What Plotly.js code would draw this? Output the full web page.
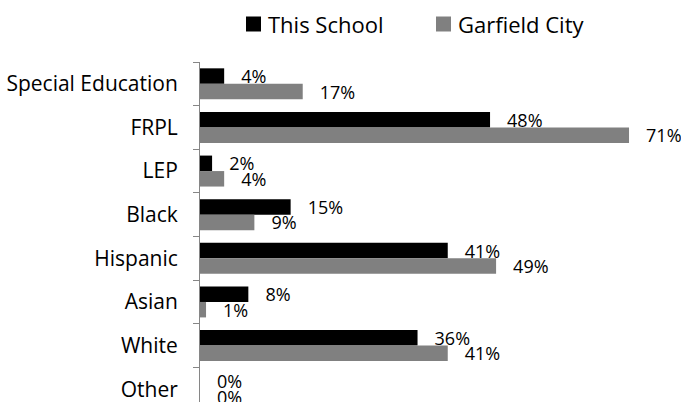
<!DOCTYPE html>
<html>
<head>
<meta charset="utf-8">
<script src="https://cdn.plot.ly/plotly-3.0.1.min.js"></script>
<style>
html,body{margin:0;padding:0;overflow:hidden;background:#fff;}
#chart{width:681px;height:420px;}
</style>
</head>
<body>
<div id="chart"></div>
<script>
const categories = ["Special Education", "FRPL", "LEP", "Black", "Hispanic", "Asian", "White", "Other"];
const thisSchool = [4, 48, 2, 15, 41, 8, 36, 0];
const garfieldCity = [17, 71, 4, 9, 49, 1, 41, 0];
const seriesNames = ["This School", "Garfield City"];
const seriesColors = ["#000000", "#808080"];

const FONT = "'Open Sans', sans-serif";
const W = 681, H = 420, ML = 200, MR = 0, MT = 62, MB = 9;
const PW = W - ML - MR, PH = H - MT - MB;

const common = {
  type: "bar",
  orientation: "h",
  y: categories,
  textposition: "outside",
  texttemplate: "   %{x}%",
  constraintext: "none",
  cliponaxis: false,
  textfont: {family: FONT, size: 18, color: "#000"},
  hoverinfo: "skip",
  showlegend: false
};

const traces = [
  Object.assign({}, common, {
    name: seriesNames[0], x: thisSchool,
    marker: {color: seriesColors[0], line: {width: 0}}
  }),
  Object.assign({}, common, {
    name: seriesNames[1], x: garfieldCity,
    marker: {color: seriesColors[1], line: {width: 0}}
  })
];

// custom legend: swatch + name, placed in paper coords
const legendLeft = [246, 436];   // swatch left edge (px)
const swatch = 15, legendCY = 24, textGap = 6;
const px2x = p => (p - ML) / PW;
const py2y = p => (H - MB - p) / PH;
const shapes = seriesNames.map((n, i) => ({
  type: "rect", xref: "paper", yref: "paper",
  x0: px2x(legendLeft[i]), x1: px2x(legendLeft[i] + swatch),
  y0: py2y(legendCY + swatch / 2), y1: py2y(legendCY - swatch / 2),
  fillcolor: seriesColors[i], line: {width: 0}
}));
const annotations = seriesNames.map((n, i) => ({
  xref: "paper", yref: "paper",
  x: px2x(legendLeft[i] + swatch + textGap), y: py2y(legendCY),
  xanchor: "left", yanchor: "middle", showarrow: false,
  borderpad: 0, text: n,
  font: {family: FONT, size: 22, color: "#000"}
}));

const layout = {
  width: W, height: H,
  margin: {l: ML, r: MR, t: MT, b: MB},
  barmode: "group",
  bargap: 0.29,
  bargroupgap: 0,
  showlegend: false,
  shapes: shapes,
  annotations: annotations,
  font: {family: FONT, size: 21, color: "#000"},
  xaxis: {
    range: [0, 79.6], showticklabels: false, showgrid: false,
    zeroline: false, showline: false, ticks: "", fixedrange: true
  },
  yaxis: {
    autorange: "reversed", type: "category",
    showline: true, linecolor: "#868686", linewidth: 1,
    ticks: "outside", ticklen: 6, tickcolor: "#868686",
    tickson: "boundaries", showgrid: false, zeroline: false,
    ticklabelstandoff: 17,
    tickfont: {family: FONT, size: 21, color: "#000"}
  },
  paper_bgcolor: "#fff", plot_bgcolor: "#fff"
};

Plotly.newPlot("chart", traces, layout, {displayModeBar: false, staticPlot: true});
</script>
</body>
</html>
